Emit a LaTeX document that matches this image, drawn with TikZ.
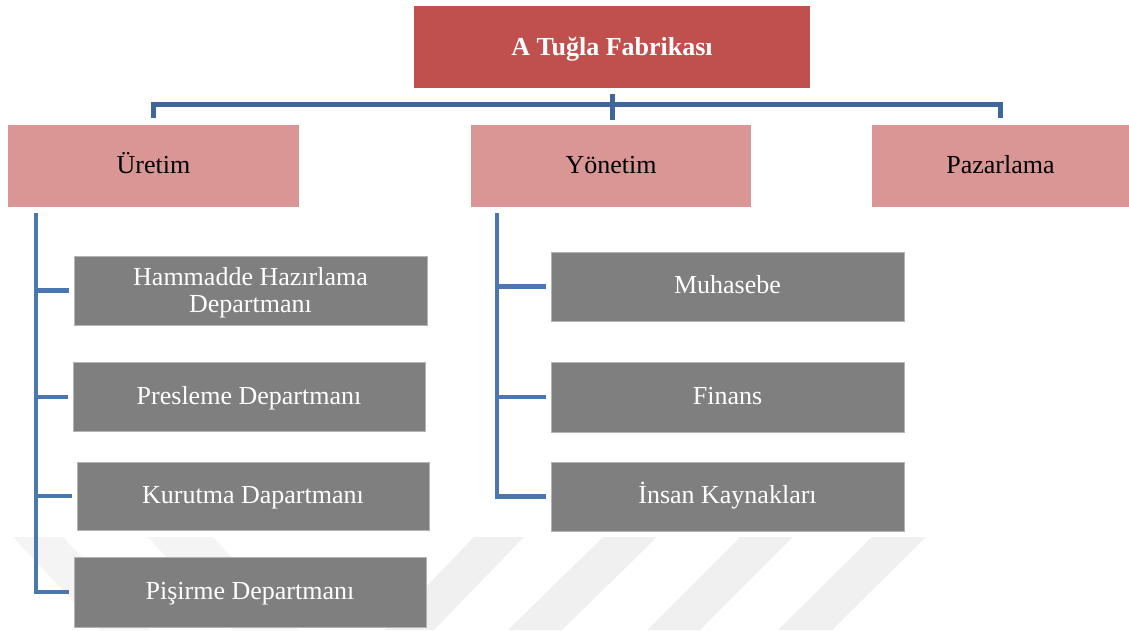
\documentclass[tikz,border=0pt]{standalone}
\usepackage{fontspec}
\setmainfont{Liberation Serif}
\definecolor{headred}{HTML}{C0504D}
\definecolor{unitred}{HTML}{D99694}
\definecolor{deptgrey}{HTML}{7F7F7F}
\definecolor{edgegrey}{HTML}{B3B3B3}
\definecolor{barblue}{HTML}{3F679C}
\definecolor{linkblue}{HTML}{4A77B0}
\definecolor{markgrey}{HTML}{F0F0F0}
\definecolor{markpale}{HTML}{F4F4F4}
\tikzset{
  headbox/.style={rectangle, fill=headred, text=white, inner sep=0pt,
    text height=22pt, text depth=6pt,
    font=\fontsize{26}{30}\selectfont\bfseries},
  unitbox/.style={rectangle, fill=unitred, text=black, inner sep=0pt,
    minimum height=82pt, text height=20pt, text depth=6pt,
    font=\fontsize{26}{30}\selectfont},
  deptbase/.style={rectangle, fill=deptgrey, draw=edgegrey, line width=0.8pt,
    text=white, inner sep=0pt,
    font=\fontsize{26}{27}\selectfont},
  deptbox/.style={deptbase, text height=20pt, text depth=6pt},
  deptwide/.style={deptbase, align=center},
  topline/.style={draw=barblue, line width=5pt},
  childline/.style={draw=linkblue, line width=4.5pt, shorten >=5pt},
  markstripe/.style={fill=markgrey, draw=none},
  markfaint/.style={fill=markpale, draw=none}
}
\begin{document}
\begin{tikzpicture}[x=1pt, y=-1pt]
\useasboundingbox (0,0) rectangle (1129,630);

% faint diagonal stripes in the background
\fill[markfaint] (13,537) -- (63,537) -- (150,630) -- (100,630) -- cycle;
\fill[markfaint] (148,537) -- (213,537) -- (298,630) -- (233,630) -- cycle;
\fill[markstripe] (474,537) -- (524,537) -- (434,630) -- (384,630) -- cycle;
\fill[markstripe] (603,537) -- (657,537) -- (562,630) -- (508,630) -- cycle;
\fill[markstripe] (740,537) -- (793,537) -- (700,630) -- (647,630) -- cycle;
\fill[markstripe] (872,537) -- (926,537) -- (832,630) -- (778,630) -- cycle;

% head of the organisation
\node[headbox, minimum width=396pt, minimum height=82pt] (top) at (612,47) {A Tuğla Fabrikası};

% main units
\node[unitbox, minimum width=291pt] (uretim) at (153.5,166) {Üretim};
\node[unitbox, minimum width=280pt] (yonetim) at (611,166) {Yönetim};
\node[unitbox, minimum width=257pt] (pazar) at (1000.5,166) {Pazarlama};

% departments of production
\node[deptwide, minimum width=353pt, minimum height=69pt] (h1) at (250.5,290.5) {};
\node[text=white, align=center, inner sep=0pt, font=\fontsize{26}{27}\selectfont] (h1text) at (250.5,292.5) {Hammadde Hazırlama\\Departmanı};
\node[deptbox, minimum width=352pt, minimum height=69pt] (h2) at (249,397) {Presleme Departmanı};
\node[deptbox, minimum width=352pt, minimum height=68pt] (h3) at (253,496) {Kurutma Dapartmanı};
\node[deptbox, minimum width=352pt, minimum height=70pt] (h4) at (250,592) {Pişirme Departmanı};

% departments of management
\node[deptbox, minimum width=353pt, minimum height=69pt] (y1) at (727.5,286.5) {Muhasebe};
\node[deptbox, minimum width=353pt, minimum height=70pt] (y2) at (727.5,397) {Finans};
\node[deptbox, minimum width=353pt, minimum height=69pt] (y3) at (727.5,496.5) {İnsan Kaynakları};

% bracket from the head to the units
\coordinate (bar) at (612,104);
\draw[topline] ([yshift=-6pt]top.south) -- ([yshift=-32pt]top.south);
\draw[topline] ([yshift=7pt]uretim.north) |- (bar) -| ([yshift=7pt]pazar.north);

% production tree
\coordinate (ut) at (36,213);
\foreach \d in {h1,h2,h3,h4}
  \draw[childline] (ut) |- (\d.west);

% management tree
\coordinate (yt) at (497,213);
\foreach \d in {y1,y2,y3}
  \draw[childline] (yt) |- (\d.west);
\end{tikzpicture}
\end{document}
